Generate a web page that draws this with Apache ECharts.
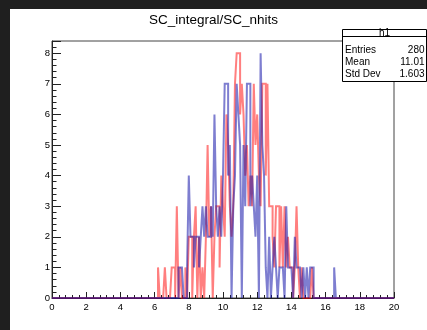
<!DOCTYPE html>
<html>
<head>
<meta charset="utf-8">
<script src="https://cdn.jsdelivr.net/npm/echarts@6/dist/echarts.min.js"></script>
<style>
html,body{margin:0;padding:0;background:#1f1f1f;}
#paper{position:absolute;left:10px;top:9px;width:417px;height:321px;background:#fff;}
#c{position:absolute;left:0;top:0;width:427px;height:330px;}
</style>
</head>
<body>
<div id="paper"></div>
<div id="c"></div>
<script>
// histogram binning
const binStart = 6.0;
const binWidth = 0.1;
// counts per bin, starting at binStart
const redCounts = [
  0,0,1,0,0,0,1,0,0,0,
  1,1,0,3,0,1,0,0,1,0,
  2,2,0,2,3,0,2,0,1,0,
  2,5,2,3,0,2,3,3,1,4,
  3,2,6,5,3,2,3,7,8,8,
  6,7,6,4,5,3,4,3,7,5,
  6,4,3,7,7,4,7,3,3,2,
  1,3,3,1,3,1,3,1,2,1,
  1,0,1,3,1,0,1,0,0,0,
  0,0,1,0,0,0,0,0,0,0,
  0,0,0,0,0,0,0
];
const blueCounts = [
  0,0,0,0,0,0,0,0,0,0,
  0,0,0,0,1,1,1,0,0,1,
  4,2,2,1,2,2,1,2,3,2,
  3,2,2,3,2,6,3,2,3,2,
  4,7,7,4,5,0,3,4,7,6,
  5,0,5,3,7,7,3,4,3,2,
  4,0,8,5,4,1,0,2,0,1,
  2,1,0,1,1,1,0,3,1,1,
  1,0,2,1,1,1,0,1,0,1,
  0,1,1,0,0,0,0,0,0,0,
  0,0,0,0,0,1,0
];
const xTicks = [0,2,4,6,8,10,12,14,16,18,20];
const yTicks = [0,1,2,3,4,5,6,7,8];
const titleText = 'SC_integral/SC_nhits';
const statsName = 'h1';
const statsLabels = ['Entries','Mean','Std Dev'];
const statsValues = ['280','11.01','1.603'];

// outline of a histogram: each bin contributes its low and high edge at its count
function stepPoints(counts){
  const pts = [[0,0]];
  for (let i = 0; i < counts.length; i++) {
    const lo = +(binStart + i*binWidth).toFixed(4);
    const hi = +(binStart + (i+1)*binWidth).toFixed(4);
    pts.push([lo, counts[i]]);
    pts.push([hi, counts[i]]);
  }
  pts.push([20, 0]);
  return pts;
}

const chart = echarts.init(document.getElementById('c'), null, {renderer:'canvas'});
const FONT = 'Liberation Sans, Arial, Helvetica, sans-serif';

const graphic = [];
graphic.push({type:'text', left:'center', top:13, style:{text:titleText, font:'13.5px '+FONT, fill:'#000'}});
graphic.push({type:'rect', shape:{x:342.5,y:29.5,width:84,height:52}, style:{fill:'#fff', stroke:'#000', lineWidth:1}, z:100});
graphic.push({type:'line', shape:{x1:342.5,y1:36.5,x2:426.5,y2:36.5}, style:{stroke:'#000', lineWidth:1}, z:100});
graphic.push({type:'text', x:384.5, y:33, style:{text:statsName, font:'10px '+FONT, fill:'#000', align:'center', verticalAlign:'middle'}, z:101});
const rowY = [50, 62.5, 74];
for (let i = 0; i < statsLabels.length; i++) {
  graphic.push({type:'text', x:345, y:rowY[i], style:{text:statsLabels[i], font:'10px '+FONT, fill:'#000', align:'left', verticalAlign:'middle'}, z:101});
  graphic.push({type:'text', x:424.5, y:rowY[i], style:{text:statsValues[i], font:'10px '+FONT, fill:'#000', align:'right', verticalAlign:'middle'}, z:101});
}

chart.setOption({
  animation:false,
  backgroundColor:'transparent',
  grid:{left:52, right:33, top:41, bottom:32, show:true, borderColor:'#444', borderWidth:1, backgroundColor:'transparent'},
  xAxis:{
    type:'value', min:xTicks[0], max:xTicks[xTicks.length-1], interval:2,
    axisLine:{show:true, onZero:false, lineStyle:{color:'#222', width:1}},
    axisTick:{show:true, inside:true, length:6, lineStyle:{color:'#222'}},
    minorTick:{show:true, splitNumber:5, length:3, lineStyle:{color:'#222'}},
    splitLine:{show:false},
    axisLabel:{color:'#000', fontSize:9.5, fontFamily:FONT, margin:4}
  },
  yAxis:{
    type:'value', min:0, max:8.4, interval:1,
    axisLine:{show:true, onZero:false, lineStyle:{color:'#222', width:1}},
    axisTick:{show:true, inside:true, length:9, lineStyle:{color:'#222'}},
    minorTick:{show:true, splitNumber:5, length:4.5, lineStyle:{color:'#222'}},
    splitLine:{show:false},
    axisLabel:{color:'#000', fontSize:9.5, fontFamily:FONT, margin:2, showMaxLabel:false,
      formatter:function(v){ return yTicks.indexOf(v) >= 0 ? String(v) : ''; }}
  },
  series:[
    {type:'line', data:stepPoints(redCounts), showSymbol:false, symbol:'none',
     lineStyle:{color:'rgba(255,0,0,0.5)', width:2, join:'miter'}, z:3},
    {type:'line', data:stepPoints(blueCounts), showSymbol:false, symbol:'none',
     lineStyle:{color:'rgba(20,20,170,0.55)', width:2, join:'miter'}, z:4}
  ],
  graphic:graphic
});
</script>
</body>
</html>
